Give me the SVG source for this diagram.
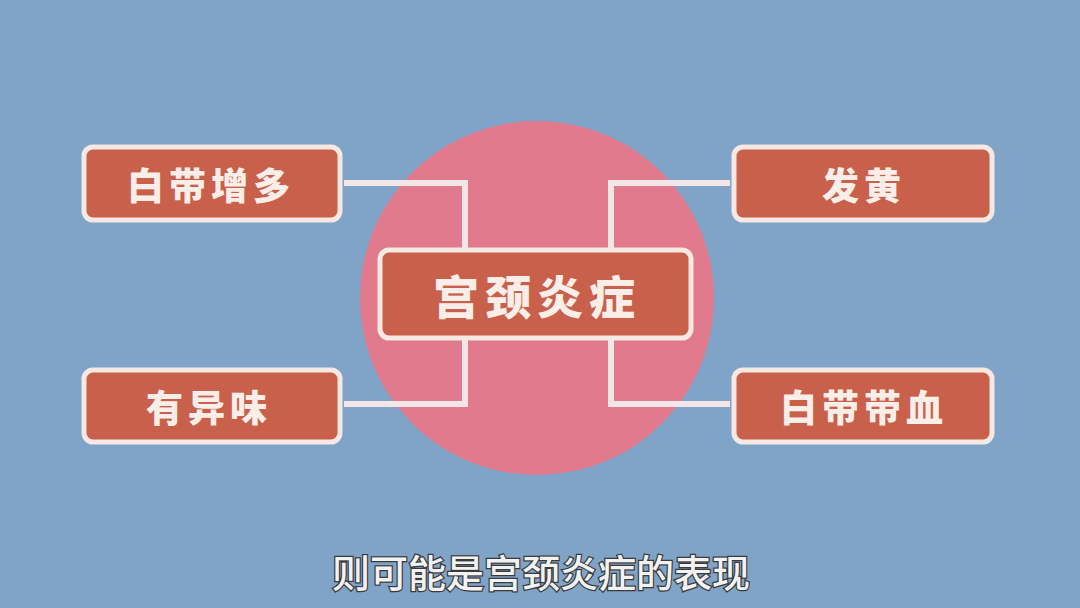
<svg xmlns="http://www.w3.org/2000/svg" width="1080" height="608" viewBox="0 0 1080 608">
<style>
.box{fill:#c8604b;stroke:#f6e8e2;stroke-width:5}
.lbl{font-family:"Noto Sans CJK SC","Noto Sans",sans-serif;font-weight:900;fill:#fbeee8;text-anchor:middle;dominant-baseline:central}
.sm{font-size:37px;letter-spacing:5px}
.conn{fill:none;stroke:#f3e6e6;stroke-width:6}
.sub{font-family:"Noto Sans CJK SC","Noto Sans",sans-serif;font-weight:500;font-size:38px;fill:#f2f2f2;stroke:#3a3a3a;stroke-width:2.5;paint-order:stroke;text-anchor:middle;dominant-baseline:central}
</style>
<rect width="1080" height="608" fill="#80a4c7"/>
<circle cx="537" cy="298" r="177" fill="#e27a8d"/>
<g id="connectors">
<polyline class="conn" points="344,183 465,183 465,250"/>
<polyline class="conn" points="344,404 465,404 465,338"/>
<polyline class="conn" points="730,183 611,183 611,250"/>
<polyline class="conn" points="730,404 611,404 611,338"/>
</g>
<g id="center">
<rect class="box" x="380" y="250" width="311" height="88" rx="9"/>
<text class="lbl" x="537" y="294" font-size="46" letter-spacing="6">宫颈炎症</text>
</g>
<g id="n1">
<rect class="box" x="84" y="147" width="256" height="73" rx="9"/>
<text class="lbl sm" x="211" y="184">白带增多</text>
</g>
<g id="n2">
<rect class="box" x="84" y="370" width="256" height="72" rx="9"/>
<text class="lbl sm" x="209" y="406">有异味</text>
</g>
<g id="n3">
<rect class="box" x="734" y="147" width="258" height="73" rx="9"/>
<text class="lbl sm" x="864" y="184">发黄</text>
</g>
<g id="n4">
<rect class="box" x="734" y="370" width="258" height="72" rx="9"/>
<text class="lbl sm" x="864" y="406">白带带血</text>
</g>
<text class="sub" x="541" y="570">则可能是宫颈炎症的表现</text>
</svg>
